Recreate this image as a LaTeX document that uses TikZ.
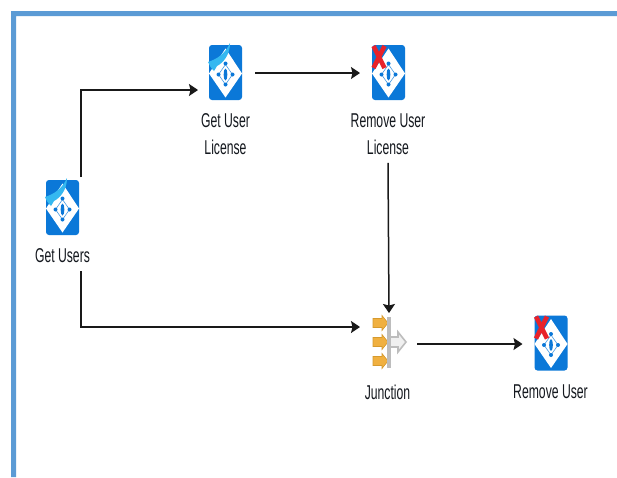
\documentclass[tikz,border=0pt]{standalone}
\usepackage{fontspec}
\setmainfont[FakeStretch=0.61]{Liberation Sans}
\usetikzlibrary{arrows.meta}
\definecolor{framec}{HTML}{5B9BD5}
\definecolor{azure}{HTML}{0B78D8}
\definecolor{swoosh}{HTML}{35B8F0}
\definecolor{xred}{HTML}{E8222A}
\definecolor{orangea}{HTML}{F0B040}
\definecolor{orangeb}{HTML}{D69A2E}
\definecolor{greyb}{HTML}{BDBDBD}
\definecolor{labelc}{HTML}{14181E}
\tikzset{
  iconbox/.style={minimum width=33pt,minimum height=55pt,inner sep=0pt,outer sep=0pt,fill=azure,rounded corners=3pt},
  lbl/.style={font=\fontsize{20}{27}\selectfont,text=labelc,align=center,inner sep=0pt,outer sep=0pt},
  link/.style={draw=black!90,line width=1.5pt,-{Stealth[length=9pt,width=12pt,inset=1.5pt]}},
  hubbox/.style={minimum width=34pt,minimum height=52pt,inner sep=0pt,outer sep=0pt},
  orangearrow/.style={fill=orangea,draw=orangeb,line width=.6pt},
  greyarrow/.style={fill=black!6,draw=greyb,line width=1.6pt}
}
\newcommand{\adglyph}[1]{%
  \begin{scope}[shift={(#1.center)}]
    \fill[white] (0,-24) -- (16.5,1) -- (0,25) -- (-16.5,1) -- cycle;
    \draw[azure!75,line width=.6pt] (0,-8) -- (7,2) -- (0,12) -- (-7,2) -- cycle;
    \fill[azure] (0,-9) circle (2pt) (7,2) circle (2pt) (-7,2) circle (2pt) (0,12) circle (2pt);
    \fill[azure] (0,2) ellipse (1.8pt and 6pt);
  \end{scope}}
\newcommand{\adswoosh}[1]{%
  \begin{scope}[shift={(#1.north west)}]
    \fill[swoosh] (-1,17) .. controls (8,14) and (16,9) .. (21,-2) .. controls (21,10) and (14,18) .. (8,21) -- (5,26) .. controls (2,23) and (0,20) .. (-1,17) -- cycle;
  \end{scope}}
\newcommand{\adcross}[1]{%
  \begin{scope}[shift={(#1.north west)}]
    \draw[xred,line width=4.6pt] (1.5,1) -- (12.5,23) (12.5,1) -- (1.5,23);
  \end{scope}}
\begin{document}
\begin{tikzpicture}[x=1pt,y=-1pt]
\useasboundingbox (0,0) rectangle (617,477);
\fill[white] (0,0) rectangle (617,477);
\fill[framec] (11,477) -- (11,11) -- (617,11) -- (617,16) -- (16,16) -- (16,477) -- cycle;

\node[iconbox] (gu) at (62.5,207.5) {};
\node[iconbox] (gul) at (225.5,72.5) {};
\node[iconbox] (rul) at (388.5,72.5) {};
\node[iconbox] (ru) at (551,343) {};
\adglyph{gu}\adglyph{gul}\adglyph{rul}\adglyph{ru}
\adswoosh{gu}\adswoosh{gul}\adcross{rul}\adcross{ru}

\node[lbl] (gulab) at (62.5,256) {Get Users};
\node[lbl] (gullab) at (225.5,134.5) {Get User\\License};
\node[lbl] (rullab) at (388,134.5) {Remove User\\License};
\node[lbl] (jlab) at (387.5,392) {Junction};
\node[lbl] (rulab) at (550.5,392) {Remove User};

\node[hubbox] (hub) at (389,343) {};
\begin{scope}[shift={(hub.center)}]
  \foreach \yy in {-20,-1,18}{
    \draw[orangearrow] (-16,\yy-4.5) -- (-7,\yy-4.5) -- (-7,\yy-7.5) -- (-1,\yy) -- (-7,\yy+7.5) -- (-7,\yy+4.5) -- (-16,\yy+4.5) -- cycle;
  }
  \draw[greyarrow] (1,-6) -- (9,-6) -- (9,-11) -- (17,-1) -- (9,9) -- (9,4) -- (1,4) -- cycle;
  \fill[greyb] (-2,-26) rectangle (2,25);
\end{scope}

\draw[link] ([shift={(2,-3)}]gu.north east) |- ([xshift=-11pt,yshift=-17.5pt]gul.west);
\draw[link] ([xshift=13pt,yshift=-.5pt]gul.east) -- ([xshift=-12pt,yshift=-.5pt]rul.west);
\draw[link] ([yshift=-8pt]rullab.south) -- ([yshift=4pt]hub.north);
\draw[link] ([xshift=18.5pt,yshift=-8pt]gulab.south) |- ([xshift=-12pt,yshift=16pt]hub.west);
\draw[link] ([xshift=11pt,yshift=-1pt]hub.east) -- ([xshift=-12pt,yshift=-1pt]ru.west);
\end{tikzpicture}
\end{document}
